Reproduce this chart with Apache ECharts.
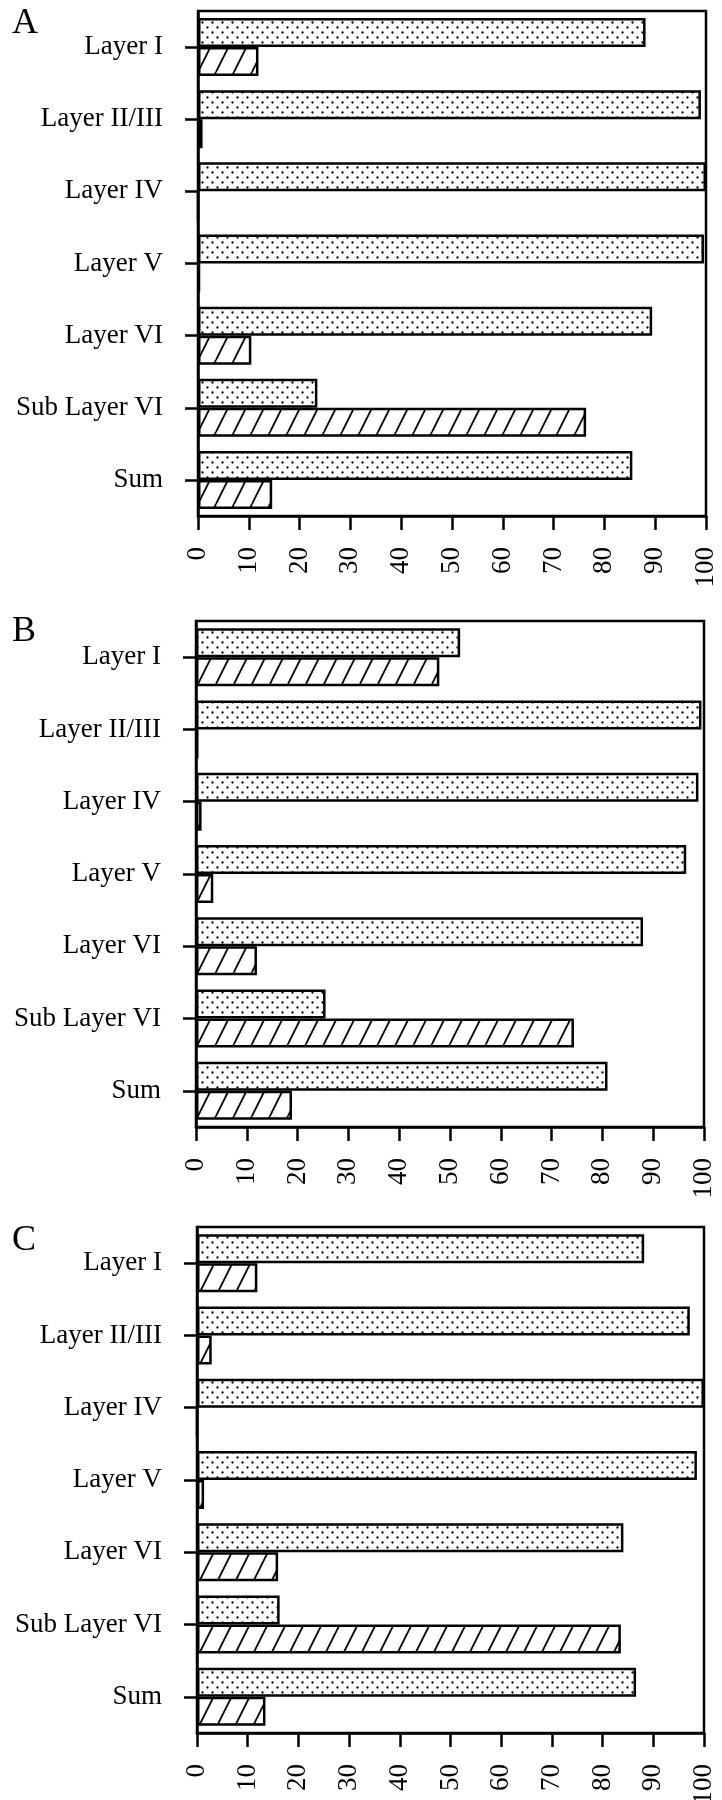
<!DOCTYPE html>
<html>
<head>
<meta charset="utf-8">
<script src="https://cdn.jsdelivr.net/npm/echarts@6/dist/echarts.min.js"></script>
<style>
	body { margin: 0; background: #fff; }
	#chart { width: 722px; height: 1800px; }
</style>
</head>
<body>
<div id="chart"></div>
<script>
// categories (top to bottom)
var categories = ['Layer I', 'Layer II/III', 'Layer IV', 'Layer V', 'Layer VI', 'Sub Layer VI', 'Sum'];
var panelNames = ['A', 'B', 'C'];

// panel A
var dotA = [88.1, 99.0, 100, 99.6, 89.4, 23.5, 85.5];
var hatchA = [11.9, 0.9, 0, 0.4, 10.5, 76.4, 14.6];
// panel B
var dotB = [52.0, 99.5, 98.9, 96.5, 88.0, 25.5, 81.0];
var hatchB = [47.9, 0.5, 1.1, 3.4, 12.0, 74.4, 18.9];
// panel C
var dotC = [88.2, 97.2, 100, 98.6, 84.1, 16.3, 86.6];
var hatchC = [11.9, 2.9, 0, 1.4, 16.0, 83.6, 13.5];

var dotData = [dotA, dotB, dotC];
var hatchData = [hatchA, hatchB, hatchC];

// value axis ticks
var valueMin = 0;
var valueMax = 100;
var valueStep = 10;

var font = 'Liberation Serif';

// dotted fill
function makeDots() {
	var c = document.createElement('canvas');
	c.width = 10;
	c.height = 10;
	var ctx = c.getContext('2d');
	ctx.fillStyle = '#fff';
	ctx.fillRect(0, 0, 10, 10);
	ctx.fillStyle = '#000';
	ctx.beginPath();
	ctx.arc(2.5, 2.5, 1.15, 0, Math.PI * 2);
	ctx.arc(7.5, 7.5, 1.15, 0, Math.PI * 2);
	ctx.fill();
	return c;
}

// diagonal hatch fill
function makeHatch() {
	var w = 18, h = 36;
	var c = document.createElement('canvas');
	c.width = w;
	c.height = h;
	var ctx = c.getContext('2d');
	ctx.fillStyle = '#fff';
	ctx.fillRect(0, 0, w, h);
	ctx.strokeStyle = '#000';
	ctx.lineWidth = 1.8;
	ctx.beginPath();
	for (var k = -1; k <= 1; k++) {
		ctx.moveTo(k * w, h);
		ctx.lineTo(k * w + w, 0);
	}
	ctx.stroke();
	return c;
}

var dotFill = { image: makeDots(), repeat: 'repeat' };
var hatchFill = { image: makeHatch(), repeat: 'repeat' };

// panel boxes
var boxes = [
	{ left: 198, right: 16, top: 11, height: 505, labelY: 24 },
	{ left: 196, right: 18, top: 621, height: 506, labelY: 632 },
	{ left: 197, right: 18, top: 1227, height: 506, labelY: 1241 }
];

var grids = [], xAxes = [], yAxes = [], series = [], graphics = [];

boxes.forEach(function(b, i) {
	grids.push({
		left: b.left,
		right: b.right,
		top: b.top,
		height: b.height,
		show: true,
		borderColor: '#000',
		borderWidth: 2.5,
		outerBoundsMode: 'none'
	});
	xAxes.push({
		type: 'value',
		gridIndex: i,
		min: valueMin,
		max: valueMax,
		interval: valueStep,
		axisLine: { show: true, lineStyle: { color: '#000', width: 2.5 } },
		axisTick: { show: true, length: 14, lineStyle: { color: '#000', width: 2.5 } },
		axisLabel: { rotate: 90, margin: 31, fontFamily: font, fontSize: 27, color: '#000' },
		splitLine: { show: false }
	});
	yAxes.push({
		type: 'category',
		gridIndex: i,
		data: categories,
		inverse: true,
		axisLine: { show: true, lineStyle: { color: '#000', width: 2.5 } },
		axisTick: { show: true, alignWithLabel: true, length: 13, lineStyle: { color: '#000', width: 2.5 } },
		axisLabel: { margin: 35, fontFamily: font, fontSize: 27, color: '#000' },
		splitLine: { show: false }
	});
	series.push({
		type: 'bar',
		xAxisIndex: i,
		yAxisIndex: i,
		data: dotData[i],
		barWidth: 29,
		barGap: '0%',
		itemStyle: { color: dotFill, borderColor: '#000', borderWidth: 2.5 }
	});
	series.push({
		type: 'bar',
		xAxisIndex: i,
		yAxisIndex: i,
		data: hatchData[i],
		barWidth: 29,
		barGap: '0%',
		itemStyle: { color: hatchFill, borderColor: '#000', borderWidth: 2.5 }
	});
	graphics.push({
		type: 'text',
		left: 12,
		top: b.labelY - 18,
		style: { text: panelNames[i], fontFamily: font, fontSize: 36, fill: '#000' }
	});
});

var myChart = echarts.init(document.getElementById('chart'));
myChart.setOption({
	animation: false,
	backgroundColor: '#fff',
	grid: grids,
	xAxis: xAxes,
	yAxis: yAxes,
	series: series,
	graphic: graphics
});
</script>
</body>
</html>
